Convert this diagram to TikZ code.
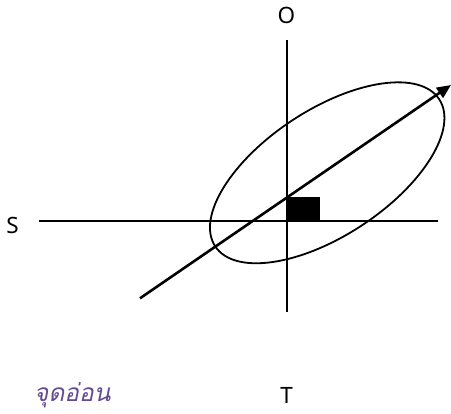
\documentclass[tikz,border=0pt]{standalone}
\usepackage{fontspec}
\setmainfont{Noto Sans}
\newfontfamily\thaifont[Script=Thai,FakeSlant=0.2]{Loma}
\usepackage{xcolor}
\definecolor{thaipurple}{RGB}{100,75,145}
\usetikzlibrary{arrows.meta}
\tikzset{
  axis/.style={line width=2pt,draw=black},
  vec/.style={line width=2.6pt,draw=black,-{Triangle[length=14pt,width=12pt]}},
  lbl/.style={font=\fontsize{22.5}{26}\selectfont,inner sep=0pt},
}
\begin{document}
\begin{tikzpicture}[x=1pt,y=-1pt]
\useasboundingbox (0,0) rectangle (451,414);
% axes
\coordinate (top) at (286.7,40);
\coordinate (bot) at (286.7,312.5);
\coordinate (left) at (39,221);
\coordinate (right) at (437.5,221);
\draw[axis] (top) -- (bot);
\draw[axis] (left) -- (right);
% labels
\node[lbl] (o) at (286.5,15.5) {O};
\node[lbl] (s) at (12.5,225) {S};
\node[lbl] (t) at (286.7,395) {T};
\node[lbl,text=thaipurple,font=\thaifont\fontsize{24.5}{28}\selectfont,anchor=west] (weak) at (34,395) {จุดอ่อน};
% ellipse
\draw[line width=1.8pt,shift={(327.2,172.8)},rotate=33.3] (0,0) ellipse [x radius=134pt,y radius=63pt];
% square
\fill (286.7,196.7) rectangle (320,221);
% vector
\coordinate (tail) at (140,298.3);
\coordinate (head) at (451,85);
\draw[vec] (tail) -- (head);
\end{tikzpicture}
\end{document}
